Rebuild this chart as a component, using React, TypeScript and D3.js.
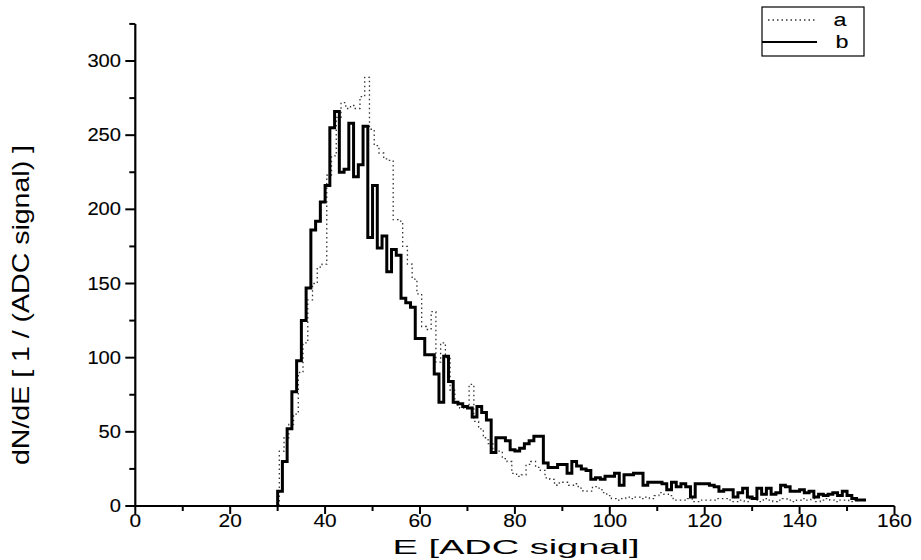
import React from "react";
import * as d3 from "d3";

// ---- data ----
const bStart = 30;      // first bin lower edge of series b
const aStart = 30.35;   // first bin lower edge of series a (slightly shifted)
const binWidth = 1;

const bValues = [
  10, 30, 52, 77, 98, 125, 147, 186, 192, 205,
  216, 255, 266, 225, 227, 258, 222, 230, 256, 181,
  216, 174, 182, 158, 173, 169, 140, 137, 134, 113,
  113, 102, 102, 89, 70, 101, 84, 70, 69, 67,
  66, 60, 67, 63, 58, 36, 46, 46, 44, 38,
  37, 39, 42, 44, 47, 47, 29, 26, 26, 28,
  28, 22, 30, 27, 25, 24, 18, 19, 18, 20,
  20, 22, 14, 21, 21, 22, 22, 14, 16, 16,
  16, 15, 11, 16, 13, 15, 13, 6, 15, 15,
  15, 14, 13, 10, 11, 11, 6, 9, 12, 6,
  5, 12, 8, 12, 8, 9, 14, 13, 10, 10,
  11, 9, 10, 6, 8, 7, 8, 9, 7, 10,
  7, 5, 4, 4,
];

const aValues = [
  37, 46, 55, 62, 90, 110, 139, 150, 161, 163,
  223, 236, 262, 272, 268, 270, 268, 276, 289, 254,
  243, 238, 234, 233, 193, 192, 175, 163, 153, 143,
  121, 119, 131, 97, 110, 100, 78, 68, 66, 66,
  82, 57, 52, 46, 42, 38, 37, 32, 30, 22,
  20, 21, 28, 30, 26, 24, 19, 18, 14, 16,
  16, 14, 15, 12, 10, 10, 13, 12, 9, 7,
  5, 4, 5, 6, 5, 6, 5, 6, 5, 7,
  9, 8, 7, 4, 4, 4, 5, 3, 3, 4,
  4, 4, 5, 5, 5, 3, 3, 4, 3, 5,
  4, 3, 5, 4, 3, 4, 5, 4, 3, 4,
  5, 4, 5, 3, 4, 5, 4, 3, 4, 4,
  3, 4, 4, 4,
];

const xMajorTicks = [0, 20, 40, 60, 80, 100, 120, 140, 160];
const xMinorTicks = [10, 30, 50, 70, 90, 110, 130, 150];
const yMajorTicks = [0, 50, 100, 150, 200, 250, 300];
const yMinorTicks = [25, 75, 125, 175, 225, 275, 325];

const seriesNames = ["a", "b"];
const xTitle = "E [ADC signal]";
const yTitle = "dN/dE [ 1 / (ADC signal) ]";

const W = 921;
const H = 560;
const FONT = "'Liberation Sans', Arial, Helvetica, sans-serif";

function stepPoints(start: number, values: number[]): [number, number][] {
  const pts: [number, number][] = [[start, 0]];
  values.forEach((v, i) => pts.push([start + i * binWidth, v]));
  pts.push([start + values.length * binWidth, values[values.length - 1]]);
  return pts;
}

export default function App() {
  const x = d3.scaleLinear().domain([0, 160]).range([135.3, 894.5]);
  const y = d3.scaleLinear().domain([0, 325]).range([506, 506 - 325 * 1.4833]);

  const line = d3
    .line<[number, number]>()
    .x((d) => x(d[0]))
    .y((d) => y(d[1]))
    .curve(d3.curveStepAfter);

  const aPath = line(stepPoints(aStart, aValues)) || "";
  const bPath = line(stepPoints(bStart, bValues)) || "";

  const x0 = x(0);
  const y0 = y(0);

  const labelStyle = { stroke: "#000", strokeWidth: 0.12 };

  return (
    <svg
      width={W}
      height={H}
      style={{ position: "absolute", left: 0, top: 0, background: "#fff" }}
      fontFamily={FONT}
    >
      <rect x={0} y={0} width={W} height={H} fill="#fff" />

      {/* series */}
      <path
        d={aPath}
        fill="none"
        stroke="#333"
        strokeWidth={1.3}
        strokeDasharray="1.5 3"
      />
      <path d={bPath} fill="none" stroke="#000" strokeWidth={3} strokeLinejoin="miter" />

      {/* axes lines */}
      <line x1={x0} x2={x(160)} y1={y0} y2={y0} stroke="#000" strokeWidth={2} />
      <line x1={x0} x2={x0} y1={y0} y2={y(325)} stroke="#000" strokeWidth={2.2} />

      {/* x ticks */}
      {xMajorTicks.map((t) => (
        <g key={"xM" + t}>
          <line x1={x(t)} x2={x(t)} y1={y0} y2={y0 + 8} stroke="#000" strokeWidth={2} />
          <text
            x={x(t)}
            y={527}
            textAnchor="middle"
            fontSize={17.5}
            textLength={String(t).length * 11.6}
            lengthAdjust="spacingAndGlyphs"
            {...labelStyle}
          >
            {t}
          </text>
        </g>
      ))}
      {xMinorTicks.map((t) => (
        <line key={"xm" + t} x1={x(t)} x2={x(t)} y1={y0} y2={y0 + 5} stroke="#000" strokeWidth={2} />
      ))}

      {/* y ticks */}
      {yMajorTicks.map((t) => (
        <g key={"yM" + t}>
          <line x1={x0 - 10} x2={x0} y1={y(t)} y2={y(t)} stroke="#000" strokeWidth={2} />
          <text
            x={121}
            y={y(t) + 6}
            textAnchor="end"
            fontSize={17.5}
            textLength={String(t).length * 11.2}
            lengthAdjust="spacingAndGlyphs"
            {...labelStyle}
          >
            {t}
          </text>
        </g>
      ))}
      {yMinorTicks.map((t) => (
        <line key={"ym" + t} x1={x0 - 6} x2={x0} y1={y(t)} y2={y(t)} stroke="#000" strokeWidth={2} />
      ))}

      {/* axis titles */}
      <text
        x={516}
        y={554}
        textAnchor="middle"
        fontSize={21}
        textLength={247}
        lengthAdjust="spacingAndGlyphs"
      >
        {xTitle}
      </text>
      <text
        transform={`translate(29, 305) rotate(-90)`}
        textAnchor="middle"
        fontSize={24}
        textLength={320}
        lengthAdjust="spacingAndGlyphs"
      >
        {yTitle}
      </text>

      {/* legend */}
      <g>
        <rect x={762} y={7} width={102} height={49} fill="#fff" stroke="#000" strokeWidth={1.2} />
        <line x1={768} x2={815} y1={20} y2={20} stroke="#333" strokeWidth={1.3} strokeDasharray="1.5 3" />
        <text
          x={840}
          y={26}
          textAnchor="middle"
          fontSize={18}
          textLength={13}
          lengthAdjust="spacingAndGlyphs"
          {...labelStyle}
        >
          {seriesNames[0]}
        </text>
        <line x1={762} x2={817} y1={42} y2={42} stroke="#000" strokeWidth={2} />
        <text
          x={842}
          y={48}
          textAnchor="middle"
          fontSize={18}
          textLength={13}
          lengthAdjust="spacingAndGlyphs"
          {...labelStyle}
        >
          {seriesNames[1]}
        </text>
      </g>
    </svg>
  );
}
